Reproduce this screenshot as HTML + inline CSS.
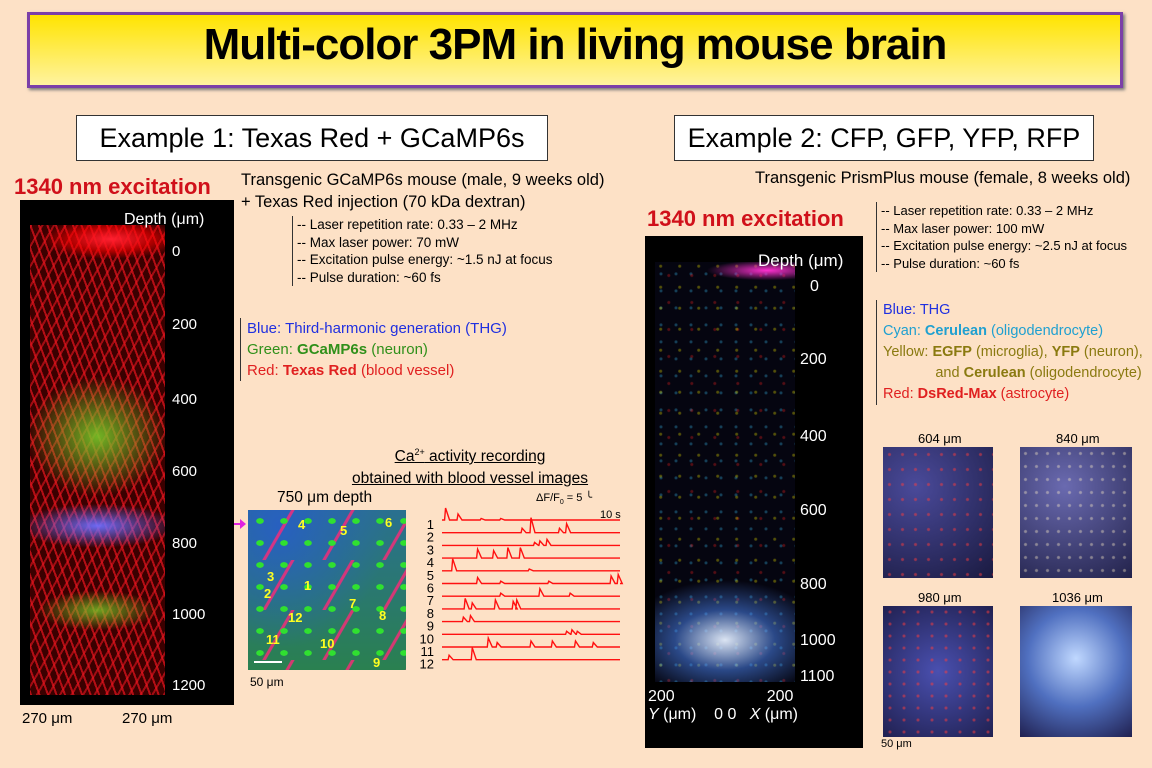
<!DOCTYPE html>
<html><head><meta charset="utf-8">
<style>
body{margin:0;width:1152px;height:768px;overflow:hidden;background:#fde1c6;font-family:"Liberation Sans",sans-serif;position:relative}
.a{position:absolute;white-space:nowrap}
</style></head><body>
<div class="a" style="left:27px;top:12px;width:1090px;height:70px;border:3px solid #7b3fa8;background:linear-gradient(#ffe400,#fff3a0);box-shadow:2px 2px 3px #777"></div>
<div class="a" style="left:27px;top:20px;width:1096px;text-align:center;font-size:44px;font-weight:bold;letter-spacing:-1px">Multi-color 3PM in living mouse brain</div>

<div class="a" style="left:76px;top:115px;width:470px;height:44px;background:#fff;border:1px solid #333;font-size:27px;text-align:center;line-height:44px">Example 1: Texas Red + GCaMP6s</div>
<div class="a" style="left:674px;top:115px;width:418px;height:44px;background:#fff;border:1px solid #333;font-size:27px;text-align:center;line-height:44px">Example 2: CFP, GFP, YFP, RFP</div>

<div class="a" style="left:14px;top:174px;font-size:22px;font-weight:bold;color:#d0101a">1340 nm excitation</div>
<div class="a" style="left:647px;top:206px;font-size:22px;font-weight:bold;color:#d0101a">1340 nm excitation</div>

<div class="a" style="left:241px;top:169px;font-size:16.5px;line-height:22px">Transgenic GCaMP6s mouse (male, 9 weeks old)<br>+ Texas Red injection (70 kDa dextran)</div>
<div class="a" style="left:292px;top:216px;font-size:13.5px;line-height:17.5px;border-left:1px solid #333;padding-left:4px">-- Laser repetition rate: 0.33 – 2 MHz<br>-- Max laser power: 70 mW<br>-- Excitation pulse energy: ~1.5 nJ at focus<br>-- Pulse duration: ~60 fs</div>
<div class="a" style="left:240px;top:318px;font-size:15px;line-height:21px;border-left:1px solid #333;padding-left:6px"><span style="color:#2030e0">Blue: Third-harmonic generation (THG)</span><br><span style="color:#30901a">Green: <b>GCaMP6s</b> (neuron)</span><br><span style="color:#e02020">Red: <b>Texas Red</b> (blood vessel)</span></div>

<div class="a" style="left:755px;top:169px;font-size:16.5px">Transgenic PrismPlus mouse (female, 8 weeks old)</div>
<div class="a" style="left:876px;top:202px;font-size:13px;line-height:17.5px;border-left:1px solid #333;padding-left:4px">-- Laser repetition rate: 0.33 – 2 MHz<br>-- Max laser power: 100 mW<br>-- Excitation pulse energy: ~2.5 nJ at focus<br>-- Pulse duration: ~60 fs</div>
<div class="a" style="left:876px;top:300px;font-size:14.5px;line-height:21px;border-left:1px solid #333;padding-left:6px"><span style="color:#2030e0">Blue: THG</span><br><span style="color:#20a0d0">Cyan: <b>Cerulean</b> (oligodendrocyte)</span><br><span style="color:#8a7a10">Yellow: <b>EGFP</b> (microglia), <b>YFP</b> (neuron),<br>&nbsp;&nbsp;&nbsp;&nbsp;&nbsp;&nbsp;&nbsp;&nbsp;&nbsp;&nbsp;&nbsp;&nbsp;&nbsp;and <b>Cerulean</b> (oligodendrocyte)</span><br><span style="color:#e02020">Red: <b>DsRed-Max</b> (astrocyte)</span></div>

<div class="a" style="left:20px;top:200px;width:214px;height:505px;background:#000"></div>
<div class="a" style="left:30px;top:225px;width:135px;height:470px;background:
radial-gradient(ellipse 70px 20px at 60% 3%,#ff2030 0%,rgba(255,0,0,.6) 60%,transparent 100%),
radial-gradient(ellipse 70px 60px at 50% 45%,rgba(120,200,40,.9),transparent),
radial-gradient(ellipse 80px 22px at 50% 64%,rgba(110,110,255,.95),transparent),
radial-gradient(ellipse 60px 20px at 50% 82%,rgba(120,200,40,.8),transparent),
repeating-linear-gradient(70deg,rgba(230,20,30,.7) 0 2px,transparent 2px 8px),
repeating-linear-gradient(-60deg,rgba(230,20,30,.6) 0 2px,transparent 2px 10px),#3a0000"></div>
<div class="a" style="left:124px;top:211px;color:#fff;font-size:16px">Depth (μm)</div>
<div class="a" style="left:172px;top:240px;color:#fff;font-size:15px;line-height:0">
<div class="a" style="top:12px">0</div><div class="a" style="top:85px">200</div><div class="a" style="top:160px">400</div><div class="a" style="top:232px">600</div><div class="a" style="top:304px">800</div><div class="a" style="top:375px">1000</div><div class="a" style="top:446px">1200</div></div>
<div class="a" style="left:22px;top:710px;font-size:15px">270 μm</div>
<div class="a" style="left:122px;top:710px;font-size:15px">270 μm</div>

<div class="a" style="left:645px;top:236px;width:218px;height:512px;background:#000"></div>
<div class="a" style="left:655px;top:262px;width:140px;height:420px;background:
radial-gradient(ellipse 100px 60px at 50% 90%,rgba(230,240,255,.95),rgba(80,140,255,.5) 50%,transparent),
radial-gradient(ellipse 60px 10px at 80% 2%,#ff30d0,transparent),
radial-gradient(circle at 30% 20%,rgba(230,220,0,.35) 0 1px,transparent 2px) 0 0/19px 21px,
radial-gradient(circle at 60% 50%,rgba(230,30,30,.35) 0 1px,transparent 2px) 0 0/23px 27px,
radial-gradient(circle at 40% 70%,rgba(60,200,255,.3) 0 1px,transparent 2px) 0 0/15px 17px,#050510"></div>
<div class="a" style="left:758px;top:251px;color:#fff;font-size:17px">Depth (μm)</div>
<div class="a" style="left:800px;top:287px;color:#fff;font-size:16px;line-height:0">
<div class="a" style="left:10px;top:0">0</div><div class="a" style="top:73px">200</div><div class="a" style="top:150px">400</div><div class="a" style="top:224px">600</div><div class="a" style="top:298px">800</div><div class="a" style="top:354px">1000</div><div class="a" style="top:390px">1100</div></div>
<div class="a" style="left:648px;top:688px;color:#fff;font-size:16px;line-height:18px">200<span style="margin-left:92px">200</span><br><i>Y</i> (μm)&nbsp;&nbsp;&nbsp;&nbsp;0&nbsp;0&nbsp;&nbsp;&nbsp;<i>X</i> (μm)</div>

<div class="a" style="left:918px;top:431px;font-size:13px">604 μm</div>
<div class="a" style="left:1056px;top:431px;font-size:13px">840 μm</div>
<div class="a" style="left:918px;top:590px;font-size:13px">980 μm</div>
<div class="a" style="left:1052px;top:590px;font-size:13px">1036 μm</div>
<div class="a" style="left:883px;top:447px;width:110px;height:131px;background:radial-gradient(circle,rgba(255,60,60,.5) 0 1px,transparent 2px) 0 0/13px 15px,radial-gradient(circle at 30% 30%,#4a4a9a,#1a1a40)"></div>
<div class="a" style="left:1020px;top:447px;width:112px;height:131px;background:radial-gradient(circle,rgba(255,240,200,.4) 0 1px,transparent 2px) 0 0/11px 13px,radial-gradient(circle at 40% 30%,#6a6ab0,#22224a)"></div>
<div class="a" style="left:883px;top:606px;width:110px;height:131px;background:radial-gradient(circle,rgba(255,60,60,.5) 0 1px,transparent 2px) 0 0/14px 12px,radial-gradient(circle,#4a50b0,#202050)"></div>
<div class="a" style="left:1020px;top:606px;width:112px;height:131px;background:radial-gradient(circle at 50% 40%,#c0d8ff,#5070c0 50%,#202050)"></div>
<div class="a" style="left:881px;top:738px;font-size:11px">50 μm</div>

<div class="a" style="left:300px;top:441px;width:340px;text-align:center;font-size:15.5px;line-height:22px;text-decoration:underline">Ca<sup style="font-size:9px">2+</sup> activity recording<br>obtained with blood vessel images</div>
<div class="a" style="left:277px;top:489px;font-size:15.5px">750 μm depth</div>
<div class="a" style="left:248px;top:510px;width:158px;height:160px;background:
radial-gradient(ellipse 4px 3px,#30e030 0 90%,transparent) 0 0/24px 22px,
linear-gradient(120deg,rgba(255,40,120,.0) 48%,rgba(255,40,120,.8) 49% 52%,transparent 53%) 0 0/60px 50px,
radial-gradient(ellipse at 20% 10%,#2860c0,transparent 60%),linear-gradient(#2a7090,#2a8050)"></div>
<div class="a" style="left:248px;top:510px;width:158px;height:160px;color:#ffff20;font-weight:bold;font-size:13px">
<div class="a" style="left:50px;top:7px">4</div><div class="a" style="left:92px;top:13px">5</div><div class="a" style="left:137px;top:5px">6</div><div class="a" style="left:19px;top:59px">3</div><div class="a" style="left:56px;top:68px">1</div><div class="a" style="left:16px;top:76px">2</div><div class="a" style="left:101px;top:86px">7</div><div class="a" style="left:131px;top:98px">8</div><div class="a" style="left:40px;top:100px">12</div><div class="a" style="left:18px;top:122px">11</div><div class="a" style="left:72px;top:126px">10</div><div class="a" style="left:125px;top:145px">9</div></div>
<div class="a" style="left:254px;top:661px;width:28px;height:2px;background:#fff"></div>
<div class="a" style="left:250px;top:675px;font-size:12px">50 μm</div>
<div class="a" style="left:536px;top:492px;font-size:11px;line-height:13px">ΔF/F<sub style="font-size:7px">0</sub> = 5 ╰<br><span style="margin-left:64px">10 s</span></div>

<svg class="a" style="left:0;top:0" width="1152" height="768">
<line x1="234" y1="524" x2="240" y2="524" stroke="#e020e0" stroke-width="2"/>
<polygon points="240,519 246,524 240,529" fill="#e020e0"/>
<g id="traces"></g>
</svg>
<script>
const traceIds=[1,2,3,4,5,6,7,8,9,10,11,12];
const traceSpikes=[
[[0.02,4],[0.09,2],[0.22,0.5],[0.33,0.5]],
[[0.45,1.5],[0.5,5],[0.66,1.5],[0.7,3]],
[[0.52,1],[0.55,1.5],[0.59,2]],
[[0.2,3],[0.29,2.5],[0.37,3.5],[0.44,3.5]],
[[0.06,4],[0.49,0.6]],
[[0.2,2],[0.33,0.8],[0.6,0.8],[0.95,2.5],[0.99,3]],
[[0.33,1],[0.55,2.5],[0.72,1]],
[[0.13,3.5],[0.17,2],[0.3,3],[0.4,2.5],[0.42,3]],
[[0.12,1.5],[0.16,2]],
[[0.7,1],[0.73,1.5],[0.76,1]],
[[0.26,3],[0.31,1.5],[0.5,2],[0.62,2],[0.75,2],[0.85,1.5]],
[[0.04,1.5],[0.17,4]]
];
const xScale=f=>442+f*178;
const yBase=i=>520+i*12.7;
const ampScale=a=>a*3;
const g=document.getElementById('traces');
traceIds.forEach((id,i)=>{
  const y0=yBase(i);
  let d=`M${xScale(0)},${y0}`;
  traceSpikes[i].slice().sort((a,b)=>a[0]-b[0]).forEach(([t,a])=>{
    const x=xScale(t);
    d+=` L${x-1},${y0} L${x},${y0-ampScale(a)} L${x+4},${y0}`;
  });
  d+=` L${xScale(1)},${y0}`;
  const p=document.createElementNS('http://www.w3.org/2000/svg','path');
  p.setAttribute('d',d);p.setAttribute('stroke','#ff1010');p.setAttribute('fill','none');p.setAttribute('stroke-width','1.4');
  
  
  g.appendChild(p);
  const t=document.createElementNS('http://www.w3.org/2000/svg','text');
  t.setAttribute('x',434);t.setAttribute('y',y0+9);t.setAttribute('text-anchor','end');t.setAttribute('font-size','13');
  t.setAttribute('font-family','Liberation Sans');t.textContent=id;
  
  
  g.appendChild(t);
});
</script>
</body></html>
